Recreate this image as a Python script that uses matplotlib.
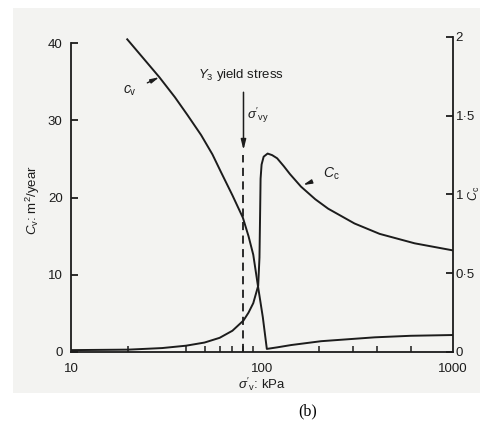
import numpy as np
import matplotlib
matplotlib.use("Agg")
import matplotlib.pyplot as plt
from matplotlib.patches import Rectangle

plt.rcParams["font.family"] = ["Liberation Sans", "DejaVu Sans"]
plt.rcParams["mathtext.fontset"] = "custom"
plt.rcParams["mathtext.it"] = "Liberation Sans:italic"
plt.rcParams["mathtext.rm"] = "Liberation Sans"

# coefficient of consolidation, m2/year (left axis)
cv_stress = [19.7, 24, 29, 35, 40.7, 48, 55, 61, 70, 79.4, 85, 90, 95.3, 101, 106,
             120, 142, 204, 389, 600, 1000]
cv_values = [40.5, 38.0, 35.6, 33.0, 30.7, 28.1, 25.6, 23.3, 20.3, 17.4, 15.0, 12.6, 8.5, 4.5, 0.4,
             0.6, 0.9, 1.4, 1.9, 2.1, 2.2]

# compression index (right axis)
cc_stress = [10, 20, 30, 40, 50, 60, 70, 80, 85, 90, 95.5, 97, 97.8, 98.3, 99.5, 102,
             107, 113, 120, 130, 140, 160, 190, 222, 305, 413, 630, 1000]
cc_values = [0.012, 0.015, 0.025, 0.04, 0.06, 0.09, 0.135, 0.2, 0.25, 0.31, 0.42, 0.6, 0.9, 1.1,
             1.19, 1.24, 1.26, 1.25, 1.23, 1.18, 1.13, 1.05, 0.97, 0.91, 0.816, 0.75, 0.69, 0.645]

yield_stress = 80
x_major = [10, 100, 1000]
x_minor = [20, 40, 50, 60, 70, 80, 90, 200, 300, 400, 600]
cv_ticks = [0, 10, 20, 30, 40]
cc_ticks = [0, 0.5, 1, 1.5, 2]
cc_ticklabels = ["0", "0·5", "1", "1·5", "2"]

ink = "#1c1c1c"
W, H = 481, 421
fig = plt.figure(figsize=(W / 100, H / 100), dpi=100)
fig.patch.set_facecolor("white")
fig.patches.append(Rectangle((13 / W, 1 - 393 / H), (W - 13) / W, (393 - 8) / H,
                             transform=fig.transFigure, facecolor="#f3f3f1",
                             edgecolor="none", zorder=-5))

ax = fig.add_axes([71 / W, 1 - 352 / H, 382 / W, (352 - 37) / H])
ax.set_facecolor("none")
ax2 = ax.twinx()

ax.set_xscale("log")
ax.set_xlim(10, 1000)
ax.set_ylim(0, 40.8)
ax2.set_ylim(0, 2)

for a in (ax, ax2):
    a.spines["top"].set_visible(False)
    for s in a.spines.values():
        s.set_linewidth(1.3)
        s.set_color(ink)
ax.spines["right"].set_visible(False)
ax2.spines["left"].set_visible(False)
ax2.spines["bottom"].set_visible(False)
ax.spines["left"].set_bounds(0, 40)

ax.plot(cv_stress, cv_values, color=ink, lw=1.4)
ax2.plot(cc_stress, cc_values, color=ink, lw=1.4)

# x axis
ax.xaxis.set_major_locator(matplotlib.ticker.FixedLocator(x_major))
ax.xaxis.set_minor_locator(matplotlib.ticker.FixedLocator(x_minor))
ax.set_xticklabels([str(v) for v in x_major])
ax.xaxis.set_minor_formatter(matplotlib.ticker.NullFormatter())
ax.tick_params(axis="x", which="major", length=0, pad=8, labelsize=9.5, colors=ink)
ax.tick_params(axis="x", which="minor", direction="in", length=4, width=1.1, color=ink)

ax.set_yticks(cv_ticks)
ax.tick_params(axis="y", direction="in", length=5, width=1.3, pad=6, labelsize=9.5, colors=ink)
ax2.set_yticks(cc_ticks)
ax2.set_yticklabels(cc_ticklabels)
ax2.tick_params(axis="y", direction="in", length=5, width=1.3, pad=2, labelsize=9.5, colors=ink)

# yield stress marker
ax.plot([yield_stress, yield_stress], [0, 25.5], color=ink, lw=1.3, ls=(0, (4.5, 3)))
ax.annotate("", xy=(yield_stress, 25.8), xytext=(yield_stress, 34.0),
            arrowprops=dict(arrowstyle="-|>,head_width=0.15,head_length=0.6",
                            color=ink, lw=1.1))
ax.text(77.6, 35.9, r"$Y_3$ yield stress", ha="center", va="center", fontsize=9.5, color=ink)
ax.text(83, 30.7, r"$\sigma'_{\rm vy}$", ha="left", va="center", fontsize=9.5, color=ink)

ax.annotate(r"$c_{\rm v}$", xy=(29, 35.6), xytext=(20.4, 33.8), ha="center", va="center",
            fontsize=10, color=ink,
            arrowprops=dict(arrowstyle="-|>,head_width=0.12,head_length=0.5",
                            color=ink, lw=1.0, shrinkA=6, shrinkB=0))
ax2.annotate(r"$C_{\rm c}$", xy=(164, 1.06), xytext=(231, 1.13), ha="center", va="center",
             fontsize=10, color=ink,
             arrowprops=dict(arrowstyle="-|>,head_width=0.12,head_length=0.5",
                             color=ink, lw=1.0, shrinkA=7, shrinkB=0))

fig.text(262 / W, 1 - 384 / H, r"$\sigma'_{\rm v}$: kPa", ha="center", va="center",
         fontsize=9.5, color=ink)
fig.text(33 / W, 1 - 200 / H, r"$C_{\rm v}$: m$^2$/year", ha="center", va="center",
         rotation=90, fontsize=9.5, color=ink)
fig.text(474.5 / W, 1 - 193 / H, r"$C_{\rm c}$", ha="center", va="center",
         rotation=90, fontsize=9, color=ink)
fig.text(308 / W, 1 - 411 / H, "(b)", ha="center", va="center",
         fontsize=11.5, family="Liberation Serif", color="black")

fig.savefig("out.png", dpi=100)
